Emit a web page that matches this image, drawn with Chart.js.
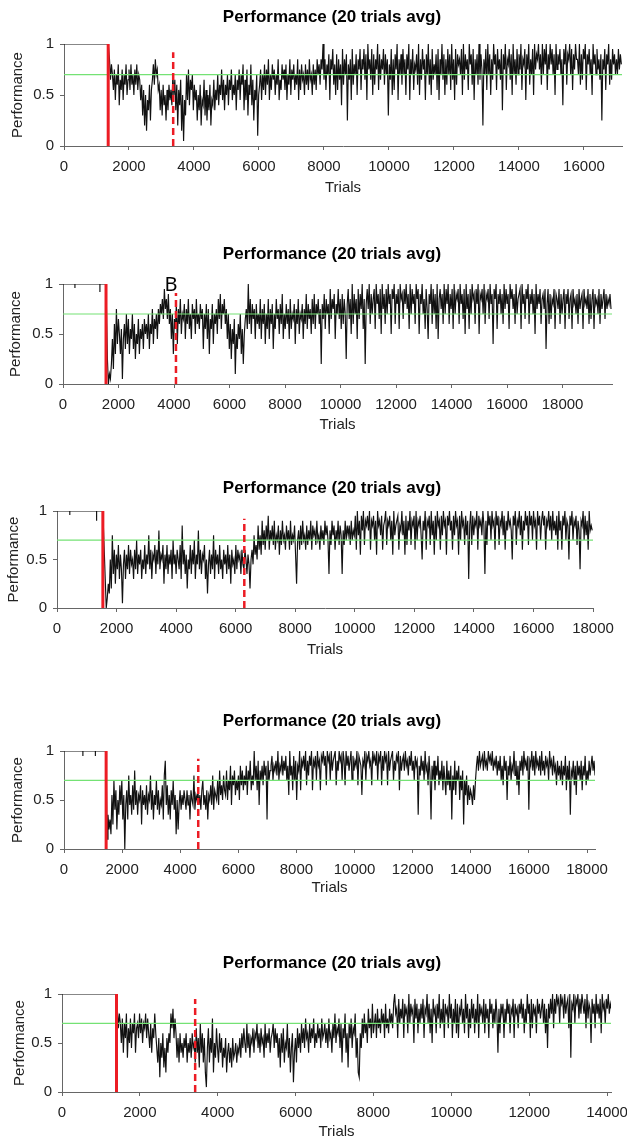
<!DOCTYPE html>
<html>
<head>
<meta charset="utf-8">
<script src="https://cdn.jsdelivr.net/npm/chart.js@4.4.1/dist/chart.umd.min.js"></script>
<style>
  html, body { margin: 0; padding: 0; background: #fff; width: 627px; height: 1144px; overflow: hidden; }
  canvas { position: absolute; left: 0; }
</style>
</head>
<body>
<canvas id="c1"></canvas>
<canvas id="c2"></canvas>
<canvas id="c3"></canvas>
<canvas id="c4"></canvas>
<canvas id="c5"></canvas>
<script>
// ---- data ----
const criterion = 0.7;
const xTickStep = 2000;
const yTickStep = 0.5;

const xMax = [17170, 19780, 18000, 18275, 14100];
const switchTrial = [1360, 1550, 1540, 1450, 1400];     // solid red
const reachedTrial = [3360, 4070, 6290, 4620, 3420];    // dashed red
const reachedTop = [0.92, 0.91, 0.92, 0.92, 0.95];

// pre-switch phase (near perfect)
const p1PreTrials = [0, 1360];
const p1PrePerf = [1, 1];
const p2PreTrials = [0, 430, 430, 430, 1330, 1330, 1330, 1550];
const p2PrePerf = [1, 1, 0.96, 1, 1, 0.92, 1, 1];
const p3PreTrials = [0, 430, 430, 430, 1330, 1330, 1330, 1540];
const p3PrePerf = [1, 1, 0.96, 1, 1, 0.90, 1, 1];
const p4PreTrials = [0, 650, 650, 650, 1080, 1080, 1080, 1450];
const p4PrePerf = [1, 1, 0.95, 1, 1, 0.95, 1, 1];
const p5PreTrials = [0, 1400];
const p5PrePerf = [1, 1];

// post-switch, one value every `step` trials from `start`
const p1Start = 1400, p1Step = 30;
const p1Perf = [
  .85,.65,.80,.70,.55,.75,.45,.70,.60,.80,.40,.65,.55,.75,.45,.70,.60,.80,.50,.65,
  .75,.55,.80,.60,.70,.50,.75,.60,.80,.55,.70,.65,.45,.60,.30,.55,.20,.50,.15,.45,
  .35,.60,.25,.55,.65,.80,.60,.85,.70,.75,.55,.60,.35,.55,.30,.60,.40,.50,.25,.55,
  .35,.60,.45,.55,.40,.70,.50,.65,.35,.60,.20,.55,.40,.65,.15,.50,.05,.45,.30,.70,
  .45,.75,.40,.65,.55,.70,.35,.60,.45,.55,.25,.50,.35,.60,.20,.45,.40,.65,.30,.55,
  .25,.50,.35,.60,.20,.45,.40,.65,.35,.55,.45,.70,.40,.60,.50,.75,.45,.65,.35,.60,
  .50,.70,.40,.65,.55,.75,.45,.60,.50,.70,.35,.65,.55,.75,.45,.70,.60,.80,.35,.65,
  .45,.75,.30,.60,.50,.80,.40,.65,.25,.55,.45,.70,.10,.50,.60,.75,.45,.70,.55,.80,
  .50,.75,.60,.85,.45,.70,.55,.80,.65,.75,.50,.70,.60,.85,.45,.65,.55,.80,.65,.75,
  .55,.80,.45,.70,.60,.85,.50,.75,.65,.80,.55,.70,.60,.85,.45,.75,.55,.80,.65,.70,
  .50,.80,.60,.75,.55,.85,.65,.70,.50,.80,.60,.75,.55,.85,.70,.80,.60,.85,.75,1.0,
  .65,.85,.55,.80,.70,.90,.45,.85,.75,.95,.60,.80,.50,.90,.55,.85,.65,.80,.40,.95,
  .60,.85,.70,.90,.25,.80,.65,.85,.45,.95,.60,.80,.70,.90,.50,.85,.75,.95,.55,.85,
  .75,.95,.65,.90,.45,1.0,.75,.85,.65,.95,.50,.90,.60,.85,.75,1.0,.55,.90,.65,.85,
  .75,.95,.60,.90,.70,.85,.30,.80,.65,.95,.50,.85,.55,.90,.75,1.0,.45,.85,.70,.90,
  .60,.95,.70,.85,.50,.90,.75,1.0,.45,.85,.70,.95,.55,.80,.75,.90,.60,1.0,.50,.85,
  .65,.95,.75,.85,.45,.90,.70,1.0,.60,.85,.50,.95,.65,.80,.70,.90,.55,.95,.45,.85,
  .70,1.0,.65,.90,.50,.85,.60,.95,.70,.90,.55,1.0,.65,.85,.45,.95,.60,.90,.80,.85,
  .70,.95,.50,1.0,.65,.90,.75,.85,.55,1.0,.80,.90,.60,.95,.45,.85,.70,.90,.60,1.0,
  .65,.90,.75,.20,.85,.70,.95,.55,1.0,.70,.90,.50,.85,.65,1.0,.80,.90,.55,.95,.75,
  .85,.65,.95,.35,.90,.75,1.0,.55,.85,.80,.95,.65,.90,.50,1.0,.70,.85,.60,.95,.70,
  .90,.75,1.0,.55,.85,.80,.95,.45,.90,.75,1.0,.60,.85,.70,.95,.50,1.0,.75,.90,.85,
  1.0,.75,.90,.60,1.0,.70,.95,.80,1.0,.55,.90,.75,1.0,.80,.95,.70,.90,.50,1.0,.75,
  .90,.80,.95,.70,.85,.40,.95,.80,1.0,.60,.90,.85,1.0,.70,.95,.55,.90,.75,1.0,.85,
  .85,.70,1.0,.60,.90,.65,.95,.85,1.0,.55,.90,.80,.95,.70,.85,.50,1.0,.80,.90,.70,
  .95,.75,.85,.65,.90,.25,.85,.75,.95,.55,.90,.80,1.0,.60,.85,.65,.95,.80,.90,.70,
  .85,.70,.95,.75,.90,.80
];

const p2Start = 1600, p2Step = 36;
const p2Perf = [
  .25,.00,.10,.05,.20,.45,.15,.60,.30,.75,.40,.65,.50,.30,.55,.05,.45,.60,.35,.70,
  .40,.65,.30,.55,.45,.70,.35,.60,.25,.50,.40,.65,.30,.55,.45,.60,.35,.65,.50,.60,
  .45,.70,.35,.60,.50,.75,.40,.65,.55,.70,.45,.75,.60,.80,.70,.85,.65,.95,.75,.85,
  .65,.90,.60,.75,.45,.70,.30,.65,.55,.80,.40,.75,.60,.85,.50,.70,.65,.80,.45,.75,
  .60,.85,.55,.70,.45,.80,.65,.75,.50,.85,.60,.70,.55,.80,.65,.75,.35,.70,.55,.80,
  .45,.75,.30,.65,.55,.80,.40,.70,.60,.75,.50,.85,.65,.90,.55,.80,.70,.85,.60,.75,
  .45,.70,.35,.60,.25,.55,.40,.65,.10,.50,.35,.60,.45,.70,.30,.55,.20,.50,.65,.75,
  .55,1.0,.60,.85,.50,.80,.65,.75,.45,.80,.60,.70,.55,.85,.45,.75,.60,.80,.40,.70,
  .55,.85,.45,.75,.60,.80,.35,.70,.55,.85,.65,.75,.50,.80,.60,.90,.45,.70,.55,.80,
  .60,.75,.45,.85,.55,.70,.65,.80,.40,.75,.60,.85,.50,.70,.65,.80,.45,.75,.60,.90,
  .55,.80,.65,.75,.50,.85,.60,.90,.55,.80,.70,.85,.60,.75,.20,.80,.65,.90,.55,.85,
  .70,.80,.50,.95,.65,.85,.75,.90,.45,.80,.70,.95,.65,.85,.55,.90,.60,.85,.70,.25,
  .80,.95,.65,.85,.50,1.0,.60,.90,.70,.85,.45,.95,.65,.90,.75,1.0,.55,.85,.20,.80,
  .95,.75,1.0,.60,.90,.70,.85,.95,.55,1.0,.80,.90,.65,.95,.50,1.0,.75,.90,.60,.95,
  .70,1.0,.80,.90,.50,.95,.85,1.0,.60,.90,.80,.95,.55,1.0,.85,.90,.65,.95,.80,1.0,
  .75,.90,.55,1.0,.70,.95,.80,.90,.60,1.0,.85,.95,.50,.90,.80,1.0,.70,.85,.55,.95,
  .75,.45,.90,.80,1.0,.60,.95,.70,.90,.55,1.0,.45,.85,.95,.75,.90,.60,1.0,.70,.95,
  .80,1.0,.60,.90,.75,.95,.55,1.0,.70,.90,.85,.95,.60,1.0,.80,.90,.65,.95,.50,1.0,
  .75,.90,.55,.95,.70,1.0,.85,.90,.60,.95,.80,1.0,.50,.90,.85,.95,.70,1.0,.60,.90,
  .85,.95,.65,1.0,.80,.90,.40,.95,.85,1.0,.55,.90,.80,.95,.70,.90,.60,1.0,.75,.95,
  .80,.90,.55,1.0,.85,.95,.75,.90,.60,1.0,.70,.85,.90,.95,.55,1.0,.80,.90,.65,.95,
  .85,1.0,.60,.90,.80,.95,.70,.90,.50,1.0,.75,.90,.80,.95,.60,.85,.90,.75,.95,.35,
  .80,.95,.60,.90,.65,.85,.80,.95,.55,.90,.85,.75,.95,.60,.90,.70,.85,.95,.55,.90,
  .80,.95,.65,.85,.90,.55,.95,.80,.85,.70,.90,.60,.95,.75,.85,.90,.55,.95,.80,.85,
  .75,.95,.60,.90,.65,.85,.95,.55,.90,.80,.85,.70,.95,.60,.90,.75,.85,.95,.65,.90,
  .75,.85,.80,.90,.75
];

const p3Start = 1620, p3Step = 34;
const p3Perf = [
  .30,.00,.10,.25,.15,.50,.20,.75,.35,.60,.25,.55,.40,.65,.30,.55,.40,.05,.45,.60,
  .30,.55,.40,.65,.35,.60,.45,.50,.30,.60,.40,.70,.35,.55,.45,.60,.30,.50,.40,.65,
  .35,.55,.45,.75,.40,.60,.30,.55,.50,.65,.35,.60,.45,.80,.40,.55,.50,.65,.25,.55,
  .40,.65,.35,.55,.45,.60,.30,.70,.45,.55,.35,.60,.50,.40,.65,.30,.85,.45,.60,.35,
  .55,.20,.50,.40,.65,.35,.60,.45,.70,.30,.55,.45,.80,.40,.60,.35,.55,.50,.65,.30,
  .50,.15,.45,.60,.35,.55,.40,.75,.30,.60,.45,.55,.35,.65,.40,.50,.30,.60,.45,.55,
  .35,.65,.40,.55,.25,.60,.45,.50,.35,.65,.40,.60,.50,.55,.35,.60,.45,.40,.60,.50,
  .35,.55,.45,.20,.50,.60,.45,.75,.55,.65,.50,.85,.60,.75,.55,.90,.65,.80,.60,.85,
  .70,.95,.60,.80,.70,.85,.65,.90,.60,.75,.70,.85,.55,.80,.65,.90,.70,.75,.60,.85,
  .70,.80,.60,.90,.65,.75,.70,.85,.55,.25,.70,.80,.60,.85,.65,.90,.70,.75,.60,.85,
  .65,.80,.70,.90,.60,.85,.75,.80,.65,.90,.70,.75,.60,.85,.70,.80,.65,.90,.75,.85,
  .70,.35,.80,.65,.90,.75,.85,.60,.80,.70,.90,.65,.85,.75,.35,.80,.65,.90,.70,.85,
  .75,.85,.65,.90,.70,.80,.75,.95,.60,1.0,.75,.90,.55,.95,.80,1.0,.65,.90,.85,.95,
  .80,1.0,.60,.90,.85,.95,.70,.90,.55,1.0,.85,.90,.75,.95,.60,.85,.90,1.0,.65,.90,
  .85,.95,.70,.90,.55,1.0,.75,.85,.90,.95,.60,.85,.80,1.0,.75,.90,.55,.95,.65,.90,
  .80,1.0,.65,.90,.85,.95,.60,1.0,.70,.90,.85,.95,.75,.50,.90,.80,1.0,.60,.90,.85,
  .95,.65,1.0,.75,.90,.55,.95,.70,1.0,.85,.90,.60,.95,.75,1.0,.85,.90,.55,.95,.85,
  1.0,.80,.90,.60,.95,.75,1.0,.85,.90,.55,.95,.70,1.0,.85,.90,.65,.95,.75,.90,.30,
  .85,1.0,.65,.95,.75,.90,.85,1.0,.60,.95,.85,.90,.75,1.0,.85,.35,.90,.65,1.0,.85,
  .95,.70,1.0,.85,.90,.60,1.0,.85,.95,.65,.90,.85,1.0,.75,.95,.60,.90,.80,1.0,.85,
  .90,.80,.50,.95,.85,1.0,.65,.90,.85,1.0,.75,.95,.60,.90,.80,1.0,.85,.95,.65,1.0,
  .85,.95,.70,1.0,.85,.90,.60,1.0,.85,.95,.70,.90,1.0,.85,.95,.60,.90,.85,1.0,.80,
  .95,.70,1.0,.80,.90,.75,.95,.60,1.0,.80,.90,.60,.95,.85,1.0,.70,.90,.85,.50,.95,
  .85,1.0,.70,.90,.85,.95,.65,.90,.80,.40,.90,.85,1.0,.70,.95,.75,.90,.60,1.0,.80,
  .85,.80
];

const p4Start = 1480, p4Step = 34;
const p4Perf = [
  .10,.35,.20,.30,.15,.55,.25,.70,.40,.60,.20,.50,.35,.65,.45,.70,.30,.55,.00,.45,
  .60,.30,.75,.45,.55,.35,.65,.40,.80,.45,.60,.35,.55,.50,.65,.25,.60,.45,.55,.40,
  .65,.35,.55,.50,.75,.40,.60,.30,.55,.45,.70,.40,.60,.35,.50,.45,.65,.30,.75,.90,
  .45,.65,.35,.55,.30,.60,.45,.70,.40,.55,.15,.50,.20,.45,.60,.40,.55,.45,.60,.50,
  .40,.60,.45,.55,.30,.60,.50,.45,.75,.40,.55,.50,.60,.45,.55,.40,.60,.70,.45,.55,
  .40,.60,.30,.55,.50,.65,.45,.75,.40,.60,.55,.50,.70,.45,.80,.55,.65,.50,.75,.60,
  .55,.80,.50,.70,.60,.85,.45,.75,.65,.80,.55,.70,.60,.75,.50,.85,.65,.80,.60,.75,
  .65,.85,.55,.80,.70,.90,.60,.75,.65,1.0,.70,.85,.60,.90,.45,.80,.70,.85,.65,.90,
  .75,.85,.30,.90,.70,.80,.85,.95,.70,.85,.80,.90,.75,1.0,.70,.85,.80,.95,.75,.90,
  .80,.95,.70,.85,.55,1.0,.75,.85,.60,.95,.70,.90,.50,.85,.80,1.0,.60,.90,.85,.95,
  .80,1.0,.65,.90,.75,.95,.85,1.0,.60,.90,.85,.95,.70,1.0,.85,.90,.60,.95,.90,1.0,
  .85,.95,.65,1.0,.90,.95,.70,1.0,.80,.90,.95,1.0,.65,.90,.80,1.0,.90,.95,.70,1.0,
  .90,.65,1.0,.85,.95,.80,.90,1.0,.70,.95,.80,.90,.85,1.0,.65,.95,.90,.85,.55,.90,
  .85,1.0,.70,.95,.90,1.0,.85,.90,.65,1.0,.90,.95,.85,1.0,.70,.95,.90,1.0,.65,.95,
  .80,1.0,.90,.95,.65,1.0,.80,.90,.95,1.0,.70,.90,.80,.95,.90,1.0,.60,.95,.80,.90,
  .95,.80,1.0,.85,.90,.75,.95,.85,1.0,.80,.90,.70,.95,.85,.90,.35,.85,.75,.95,.80,
  .90,.70,1.0,.80,.85,.65,.95,.75,.30,.85,.70,.90,.60,.85,.75,.95,.65,.80,.70,.90,
  .60,.85,.70,.55,.90,.65,.80,.60,.85,.30,.75,.60,.90,.55,.80,.70,.85,.50,.75,.60,
  .80,.25,.70,.55,.75,.45,.65,.50,.60,.55,.45,.65,.50,.70,.85,.95,.80,1.0,.85,.90,
  .95,.80,1.0,.85,.90,.80,1.0,.90,.95,.85,1.0,.80,.90,.85,.95,.75,.90,.80,.95,.70,
  .85,.65,.95,.80,.90,.50,.85,.75,.95,.70,.85,.80,1.0,.75,.90,.65,.85,.55,.90,.80,
  .95,.75,1.0,.85,.90,.80,.95,.40,.90,.85,1.0,.80,.95,.75,1.0,.85,.90,.80,.95,.75,
  1.0,.80,.90,.75,.95,.85,.90,.70,1.0,.85,.90,.75,.95,.80,.85,.65,.90,.75,.85,.70,
  .90,.65,.85,.75,.95,.60,.85,.70,.90,.35,.80,.75,.90,.65,.85,.55,.90,.75,.85,.70,
  .90,.60,.85,.75,.95,.65,.80,.70,.90,.75,.85,.95,.80,.90,.75
];

const p5Start = 1420, p5Step = 26;
const p5Perf = [
  .85,.65,.80,.70,.50,.75,.40,.70,.55,.80,.35,.65,.50,.75,.45,.70,.60,.80,.40,.65,
  .70,.55,.80,.60,.75,.50,.70,.65,.80,.55,.75,.60,.45,.70,.40,.65,.55,.80,.60,.45,
  .30,.55,.15,.50,.35,.60,.25,.45,.20,.55,.40,.60,.50,.80,.65,.85,.55,.75,.60,.35,
  .55,.30,.60,.40,.50,.35,.55,.45,.60,.30,.50,.40,.55,.35,.60,.45,.50,.30,.65,.40,
  .55,.25,.70,.40,.60,.30,.55,.20,.05,.45,.65,.30,.55,.40,.75,.20,.50,.35,.65,.45,
  .30,.60,.40,.55,.25,.45,.35,.55,.20,.40,.50,.30,.45,.25,.55,.35,.40,.50,.30,.45,
  .40,.55,.35,.60,.45,.65,.50,.40,.70,.45,.60,.35,.55,.50,.65,.40,.60,.55,.70,.45,
  .60,.40,.65,.50,.55,.35,.70,.45,.60,.50,.65,.40,.55,.60,.70,.45,.65,.50,.60,.35,
  .55,.25,.60,.40,.65,.30,.50,.45,.70,.35,.55,.20,.45,.60,.10,.40,.55,.30,.65,.45,
  .60,.40,.70,.50,.65,.45,.75,.55,.60,.40,.70,.50,.65,.55,.75,.45,.60,.50,.70,.55,
  .65,.45,.75,.55,.60,.70,.50,.65,.45,.75,.55,.60,.40,.70,.55,.80,.50,.65,.60,.75,
  .45,.70,.30,.65,.55,.80,.40,.60,.25,.70,.55,.75,.45,.65,.60,.80,.35,.55,.20,.15,
  .60,.45,.75,.55,.80,.60,.70,.50,.85,.65,.75,.55,.90,.60,.70,.80,.55,.85,.65,.75,
  .60,.85,.70,.80,.55,.90,.65,.75,.60,.85,.70,.80,.65,.90,1.0,.80,.85,.55,.95,.70,
  .85,.75,.95,.55,.90,.80,.85,.60,1.0,.70,.90,.80,.85,.50,.95,.75,.90,.60,.85,.70,
  .90,.75,.95,.55,.85,.80,1.0,.70,.90,.60,.85,.50,.95,.80,.85,.60,.90,.75,1.0,.65,
  .85,.70,.95,.55,.90,.80,.85,.65,1.0,.75,.90,.55,.85,.70,.95,.60,.90,.55,.85,.80,
  .95,.70,.85,.60,1.0,.75,.90,.55,.85,.65,.95,.75,.90,.60,.85,.70,1.0,.55,.90,.80,
  .85,.70,.95,.60,.90,.75,.85,.55,.95,.80,.90,.65,.85,.70,.95,.80,.40,.85,.60,.90,
  .80,.90,.55,.85,.70,.95,.80,.90,.60,.85,.80,.95,.55,.90,.80,.85,.65,.90,.80,.95,
  .75,.90,.60,.85,.70,1.0,.80,.90,.55,.95,.65,.90,.80,.85,.60,.95,.80,.90,.75,.85,
  .95,.70,.90,.60,.85,.45,.90,.75,.95,.80,1.0,.65,.95,.80,1.0,.90,.95,.70,1.0,.90,
  .95,.75,1.0,.80,.90,.95,.65,1.0,.35,.90,.85,1.0,.70,.95,.90,1.0,.75,.95,.80,1.0,
  .90,.80,.95,.65,1.0,.75,.90,.85,.50,.95,.80,.90,.65,1.0,.80,.90,.75,.95,.60,1.0,
  .85,.90,.70,.95,.85,1.0,.80,.90,.85
];

const preTrials = [p1PreTrials, p2PreTrials, p3PreTrials, p4PreTrials, p5PreTrials];
const prePerf = [p1PrePerf, p2PrePerf, p3PrePerf, p4PrePerf, p5PrePerf];
const starts = [p1Start, p2Start, p3Start, p4Start, p5Start];
const steps = [p1Step, p2Step, p3Step, p4Step, p5Step];
const perf = [p1Perf, p2Perf, p3Perf, p4Perf, p5Perf];

// ---- layout (pixel boxes of each panel in the page) ----
const frames = [
  { top: 0,   titleY: 17,  plotTop: 44,  plotBottom: 146,  trialsY: 188,  left: 64, right: 622, ylabX: 18 },
  { top: 235, titleY: 254, plotTop: 284, plotBottom: 384,  trialsY: 425,  left: 63, right: 612, ylabX: 16 },
  { top: 470, titleY: 488, plotTop: 511, plotBottom: 608,  trialsY: 650,  left: 57, right: 593, ylabX: 14 },
  { top: 702, titleY: 721, plotTop: 751, plotBottom: 849,  trialsY: 888,  left: 64, right: 595, ylabX: 18 },
  { top: 945, titleY: 963, plotTop: 994, plotBottom: 1092, trialsY: 1132, left: 62, right: 611, ylabX: 20 }
];
const canvasW = 664;
const titleSize = 17;

Chart.defaults.font.family = '"Liberation Sans", Arial, Helvetica, sans-serif';
Chart.defaults.color = '#222';

function series(k) {
  const pts = preTrials[k].map((t, i) => ({ x: t, y: prePerf[k][i] }));
  perf[k].forEach((v, i) => pts.push({ x: starts[k] + i * steps[k], y: v }));
  return pts;
}

const markB = {
  id: 'markB',
  afterDatasetsDraw(chart) {
    if (chart.canvas.id !== 'c2') return;
    const { ctx, scales } = chart;
    ctx.save();
    ctx.font = '20px "Noto Sans", "Open Sans", sans-serif';
    ctx.fillStyle = '#000';
    ctx.textAlign = 'center';
    ctx.textBaseline = 'alphabetic';
    ctx.fillText('B', scales.x.getPixelForValue(3890), scales.y.getPixelForValue(0.93));
    ctx.restore();
  }
};

frames.forEach((f, k) => {
  const canvas = document.getElementById('c' + (k + 1));
  const h = f.trialsY + 10 - f.top;
  canvas.width = canvasW;
  canvas.height = h;
  canvas.style.top = f.top + 'px';

  const lh = titleSize * 1.2;
  const titlePadTop = f.titleY - f.top - lh / 2;
  const titlePadBottom = f.plotTop - f.top - titlePadTop - lh;

  new Chart(canvas, {
    type: 'line',
    data: {
      datasets: [
        { data: [{ x: switchTrial[k], y: 0 }, { x: switchTrial[k], y: 1 }], borderColor: '#ec1c24', borderWidth: 3, order: 0 },
        { data: [{ x: reachedTrial[k], y: 0 }, { x: reachedTrial[k], y: reachedTop[k] }], borderColor: '#ec1c24', borderWidth: 2.5, borderDash: [7, 4], order: 0 },
        { data: [{ x: 0, y: criterion }, { x: xMax[k], y: criterion }], borderColor: '#74e274', borderWidth: 1.2, order: 0 },
        { data: series(k), borderColor: '#111', borderWidth: 1.15, order: 1 }
      ]
    },
    options: {
      responsive: false,
      animation: false,
      events: [],
      elements: { point: { radius: 0 }, line: { tension: 0 } },
      layout: { padding: 0 },
      plugins: {
        legend: { display: false },
        tooltip: { enabled: false },
        title: {
          display: true,
          text: 'Performance (20 trials avg)',
          color: '#000',
          font: { size: titleSize, weight: 'bold' },
          padding: { top: titlePadTop, bottom: titlePadBottom }
        }
      },
      scales: {
        x: {
          type: 'linear',
          min: 0,
          max: xMax[k],
          grid: { drawOnChartArea: false, tickLength: 4, color: '#666' },
          border: { color: '#666', width: 1 },
          ticks: { autoSkip: false, maxRotation: 0, padding: 8,
                   font: { size: 15 }, callback: v => String(v) },
          afterBuildTicks: a => {
            const t = [];
            for (let v = 0; v <= a.max; v += xTickStep) t.push({ value: v });
            a.ticks = t;
          },
          afterFit: a => { a.height = f.trialsY + 10 - f.plotBottom; },
          title: { display: true, text: 'Trials', font: { size: 15 }, padding: { top: 0, bottom: 1 } }
        },
        y: {
          min: 0,
          max: 1,
          grid: { drawOnChartArea: false, tickLength: 4, color: '#666' },
          border: { color: '#666', width: 1 },
          ticks: { stepSize: yTickStep, padding: 6, font: { size: 15 }, callback: v => String(v) },
          afterFit: a => { a.width = f.left; },
          title: { display: true, text: 'Performance', font: { size: 15 }, padding: { top: f.ylabX - 9, bottom: 0 } }
        },
        // empty strip on the right so the title centres where the original's does
        pad: {
          type: 'linear',
          position: 'right',
          grid: { display: false },
          border: { display: false },
          ticks: { display: false },
          afterFit: a => { a.width = canvasW - f.right; }
        }
      }
    },
    plugins: [markB]
  });
});
</script>
</body>
</html>
